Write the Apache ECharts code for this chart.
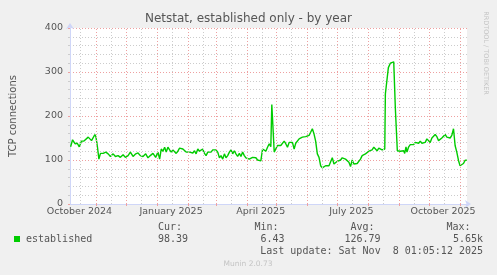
<!DOCTYPE html>
<html><head><meta charset="utf-8">
<script src="https://cdn.jsdelivr.net/npm/echarts@6/dist/echarts.min.js"></script>
<style>html,body{margin:0;padding:0;background:#f0f0f0;}#c{width:497px;height:275px;}</style>
</head><body><div id="c"></div>
<script>
// ---- data ----
const chartTitle = 'Netstat, established only - by year';
const yAxisName = 'TCP connections';
const seriesName = 'established';
const startDate = '2024-10-05T12:00:00Z';
const endDate = '2025-11-08T01:05:12Z';
// days since startDate
const dayOffsets = [0.6,2.6,5,7.3,9.3,11.6,14,16,18.3,20,21.6,23.3,25,26,27.6,29,30.6,33.3,36,38.3,40.6,43.3,45.6,48.3,50.6,53.3,55.6,58.3,60.6,63.3,66,68.3,70.6,73.3,76,78.3,80.6,83.3,86,88.3,90,91.6,93.3,95,96.6,98.3,100,101.6,103.3,105,106.6,108.3,110,111.6,113.3,115,116.6,118.3,120,121.6,123.3,125,126.6,128.3,130,131.6,133.3,135,136.6,138.3,140,141.6,143.3,145,146.6,148.3,150,151.6,153.3,155,156.6,158.3,160,161.6,163.3,165,166.6,168.3,170,171.6,173.3,175,176.6,178.3,180,181.6,183.3,185,186.6,188.3,190,191.6,193.3,195,196.6,198.3,200,201.6,202.6,204,205,206.6,208.3,210,211.6,213.3,215,216.6,218.3,220,221.6,223.3,225,226.6,228.3,230,231.6,233.3,235,236.6,238.3,240,241.6,243.3,245,246.6,248.3,250,251.6,253.3,255,256.6,258.3,260,261.6,263.3,265,266.6,268.3,270,271.6,273.3,275,276.6,278.3,280,281.6,283.3,285,286.6,288.3,290,291.6,293.3,295,296.6,298.3,300,301.6,303.3,305,306.6,308.3,310,311.6,313.3,315,316,316.6,318.3,319.6,321.6,323.3,325,326,326.6,328,328.6,330,331.6,333.3,335,336,337.3,338.3,340,341.6,343.3,345,346.6,348.3,350,351.6,353.3,355,356.6,358.3,360,361.6,363.3,365,366.6,368.3,370,371.6,373.3,375,376.6,378.3,380,381.6,383.3,385,386.6,388.3,390,391.6,393.3,395,396.6,398.3];
const connections = [130,146,137,138,130,143,143,144,152,156,144,146,158,153,129,102,115,115,118,114,108,114,108,110,106,112,106,110,118,108,114,116,110,108,114,105,110,115,106,118,102,125,120,129,118,129,123,118,123,125,115,120,127,125,125,121,118,121,118,120,116,121,114,125,120,118,125,115,110,118,120,118,123,125,123,118,105,110,102,114,105,110,118,123,114,121,114,108,115,108,118,110,105,106,102,104,106,102,105,100,100,98,125,129,120,129,137,130,226,224,118,118,133,137,133,133,143,137,129,140,140,140,125,138,140,148,152,152,154,153,156,156,163,171,159,143,114,106,87,82,85,87,85,87,91,105,91,95,97,99,100,105,106,102,99,95,85,100,91,91,92,95,102,110,106,114,118,120,123,123,129,125,121,127,123,123,125,125,250,254,310,320,323,323,323,218,218,121,120,120,120,121,115,130,118,130,135,133,135,140,143,138,143,138,140,140,148,144,140,150,152,158,153,144,146,150,148,158,152,153,150,156,171,133,118,99,87,85,92,99,100];
const xLabelDates = ['2024-10-15','2025-01-15','2025-04-15','2025-07-15','2025-10-15'];
const monthStarts = ['2024-11-01','2024-12-01','2025-01-01','2025-02-01','2025-03-01','2025-04-01','2025-05-01','2025-06-01','2025-07-01','2025-08-01','2025-09-01','2025-10-01','2025-11-01'];
const midMonths = ['2024-10-16','2024-11-16','2024-12-16','2025-01-16','2025-02-16','2025-03-16','2025-04-16','2025-05-16','2025-06-16','2025-07-16','2025-08-16','2025-09-16','2025-10-16'];
const monthNames = ['January','February','March','April','May','June','July','August','September','October','November','December'];
const statLabels = ['Cur:','Min:','Avg:','Max:'];
const statValues = ['98.39','6.43','126.79','5.65k'];
const lastUpdate = 'Last update: Sat Nov  8 01:05:12 2025';
const footer = 'Munin 2.0.73';
const watermark = 'RRDTOOL / TOBI OETIKER';

// ---- build ----
const DAY = 86400000;
const t0 = Date.parse(startDate);
const t1 = Date.parse(endDate);
const ts = d => Date.parse(d + 'T00:00:00Z');
const lineData = dayOffsets.map((d, i) => [t0 + d * DAY, connections[i]]);

const FONT = '#555';
const GRID = '#cccccc';
const MGRID = '#eea0a0';
const AXIS = '#CFD6F8';

const vLines = [].concat(
  midMonths.map(d => ({xAxis: ts(d), lineStyle: {color: GRID, type: [1, 2], width: 1}})),
  monthStarts.map(d => ({xAxis: ts(d), lineStyle: {color: MGRID, type: [1, 2], width: 1}}))
);

const statX = [182, 278.5, 374.5, 470.5];
const valX = [188, 284.5, 380.5, 483];
const graphics = [];
statLabels.forEach((s, i) => graphics.push({type: 'text', x: statX[i], y: 227.5, silent: true,
  style: {text: s, align: 'right', verticalAlign: 'middle', font: '10px "DejaVu Sans Mono"', fill: FONT}}));
statValues.forEach((s, i) => graphics.push({type: 'text', x: valX[i], y: 239.5, silent: true,
  style: {text: s, align: 'right', verticalAlign: 'middle', font: '10px "DejaVu Sans Mono"', fill: FONT}}));
graphics.push({type: 'text', x: 483, y: 251.5, silent: true,
  style: {text: lastUpdate, align: 'right', verticalAlign: 'middle', font: '10px "DejaVu Sans Mono"', fill: FONT}});
graphics.push({type: 'text', x: 248, y: 264, silent: true,
  style: {text: footer, align: 'center', verticalAlign: 'middle', font: '7.5px "DejaVu Sans"', fill: '#c4c4c4'}});
graphics.push({type: 'text', x: 486, y: 53, rotation: -Math.PI / 2, silent: true,
  style: {text: watermark, align: 'center', verticalAlign: 'middle', font: '6.5px "DejaVu Sans"', fill: '#c4c4c4'}});

const chart = echarts.init(document.getElementById('c'), null, {renderer: 'canvas'});
chart.setOption({
  animation: false,
  backgroundColor: '#f0f0f0',
  title: {text: chartTitle, left: 'center', top: 13, padding: 0,
    textStyle: {fontFamily: 'DejaVu Sans', fontSize: 12, fontWeight: 'normal', color: '#555'}},
  legend: {data: [seriesName], left: 14, top: 234, padding: 0, icon: 'rect', itemWidth: 6, itemHeight: 6,
    textStyle: {fontFamily: 'DejaVu Sans Mono', fontSize: 10, color: FONT, padding: [0, 0, 0, 1]}},
  grid: {left: 67, top: 28, width: 400, height: 176, backgroundColor: '#ffffff', show: true, borderWidth: 0},
  xAxis: {
    type: 'value', min: t0, max: t1,
    axisLine: {show: true, lineStyle: {color: AXIS, width: 1}, symbol: ['none', 'arrow'], symbolSize: [6, 6], symbolOffset: [0, 4]},
    axisTick: {show: true, customValues: monthStarts.map(ts), length: 2, lineStyle: {color: MGRID}},
    axisLabel: {customValues: xLabelDates.map(ts), margin: 3, fontFamily: 'DejaVu Sans', fontSize: 9.5, color: FONT,
      formatter: v => { const d = new Date(v); return monthNames[d.getUTCMonth()] + ' ' + d.getUTCFullYear(); }},
    splitLine: {show: false}
  },
  yAxis: {
    type: 'value', min: 0, max: 400, interval: 100,
    name: yAxisName, nameLocation: 'middle', nameRotate: 90, nameGap: 52,
    nameTextStyle: {fontFamily: 'DejaVu Sans', fontSize: 10, color: FONT},
    axisLine: {show: true, lineStyle: {color: AXIS, width: 1}, symbol: ['none', 'arrow'], symbolSize: [6, 6], symbolOffset: [0, 5]},
    axisTick: {show: true, length: 2, lineStyle: {color: MGRID}},
    minorTick: {show: true, splitNumber: 5, length: 2, lineStyle: {color: GRID}},
    axisLabel: {margin: 7, fontFamily: 'DejaVu Sans', fontSize: 9.5, color: FONT},
    splitLine: {show: true, lineStyle: {color: MGRID, type: [1, 2], width: 1}},
    minorSplitLine: {show: true, lineStyle: {color: GRID, type: [1, 2], width: 1}}
  },
  series: [
    {type: 'line', name: '_grid', data: [], z: 1, silent: true,
      markLine: {silent: true, symbol: ['none', 'none'], label: {show: false}, animation: false, data: vLines}},
    {type: 'line', name: seriesName, data: lineData, z: 3, showSymbol: false, symbol: 'none',
      color: '#00cc00', lineStyle: {color: '#00cc00', width: 1.4}, emphasis: {disabled: true}}
  ],
  graphic: graphics
});
</script></body></html>
